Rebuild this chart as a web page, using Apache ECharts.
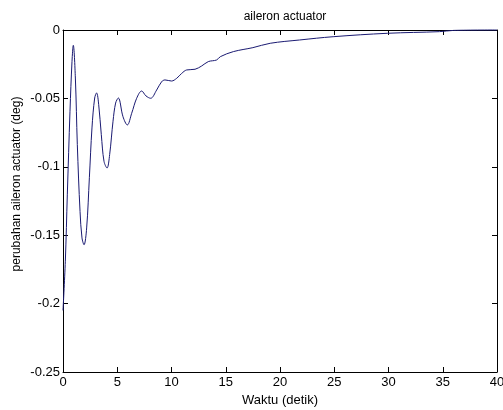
<!DOCTYPE html>
<html>
<head>
<meta charset="utf-8">
<script src="https://cdn.jsdelivr.net/npm/echarts@6/dist/echarts.min.js"></script>
<style>html,body{margin:0;padding:0;background:#fff}#c{width:503px;height:410px}</style>
</head>
<body>
<div id="c"></div>
<script>
var times = [0, 0.215, 0.40, 0.645, 0.83, 0.95, 1.14, 1.32, 1.57, 1.75, 1.94, 2.18, 2.43, 2.67, 2.92, 3.10, 3.29, 3.53, 3.78, 4.06, 4.30, 4.61, 4.85, 5.10, 5.53, 5.93, 6.33, 6.79, 7.25, 7.65, 8.08, 8.63, 9.09, 9.40, 10.0, 10.48, 10.94, 11.40, 12.17, 12.78, 13.39, 14.16, 14.5, 15.7, 17.5, 19.1, 21.8, 24.9, 29.9, 34.7, 36.0, 40.0];
var values = [-0.205, -0.169, -0.120, -0.0594, -0.0229, -0.0112, -0.0351, -0.0838, -0.1326, -0.152, -0.157, -0.1447, -0.108, -0.0716, -0.0497, -0.046, -0.0546, -0.0765, -0.096, -0.1009, -0.0911, -0.0667, -0.0534, -0.0497, -0.0634, -0.0694, -0.0609, -0.0499, -0.0446, -0.0482, -0.0499, -0.0439, -0.0378, -0.0365, -0.0373, -0.0353, -0.0317, -0.0292, -0.0287, -0.0263, -0.0231, -0.0219, -0.0195, -0.0158, -0.0129, -0.0097, -0.0073, -0.0049, -0.0024, -0.0012, -0.0003, 0];
var titleText = "aileron actuator";
var xName = "Waktu (detik)";
var yName = "perubahan aileron actuator (deg)";

var pts = times.map(function (t, i) { return [t, values[i]]; });
var font = "Arial, 'Liberation Sans', sans-serif";
var chart = echarts.init(document.getElementById('c'), null, {renderer: 'canvas'});
var axLine = {show: true, onZero: false, lineStyle: {color: '#000', width: 1}};
var tick = {show: true, inside: true, length: 5, lineStyle: {color: '#000'}};
chart.setOption({
  animation: false,
  backgroundColor: '#fff',
  title: {text: titleText, left: 280, top: 6, textAlign: 'center',
    textStyle: {fontFamily: font, fontSize: 12, fontWeight: 'normal', color: '#000'}},
  graphic: [{
    type: 'text', x: 17, y: 184, rotation: Math.PI / 2,
    style: {text: yName, fontFamily: font, fontSize: 12, fill: '#000',
      align: 'center', verticalAlign: 'middle'}
  }],
  grid: {left: 63, right: 6, top: 30, bottom: 38, containLabel: false, outerBoundsMode: 'none'},
  xAxis: [{
    type: 'value', min: 0, max: 40, interval: 5, position: 'bottom',
    name: xName, nameLocation: 'middle', nameGap: 22,
    nameTextStyle: {fontFamily: font, fontSize: 13, color: '#000'},
    axisLine: axLine, axisTick: tick, splitLine: {show: false},
    axisLabel: {fontFamily: font, fontSize: 13, color: '#000', margin: 4}
  }, {
    type: 'value', min: 0, max: 40, interval: 5, position: 'top',
    axisLine: axLine, axisTick: tick, splitLine: {show: false}, axisLabel: {show: false}
  }],
  yAxis: [{
    type: 'value', min: -0.25, max: 0, interval: 0.05, position: 'left',
    axisLine: axLine, axisTick: tick, splitLine: {show: false},
    axisLabel: {fontFamily: font, fontSize: 13, color: '#000', margin: 3,
      formatter: function (v) { return String(+v.toFixed(2)); }}
  }, {
    type: 'value', min: -0.25, max: 0, interval: 0.05, position: 'right',
    axisLine: axLine, axisTick: tick, splitLine: {show: false}, axisLabel: {show: false}
  }],
  series: [{
    type: 'line', data: pts, showSymbol: false, smooth: 0.35,
    lineStyle: {color: '#1a1a72', width: 1}, clip: false
  }]
});
</script>
</body>
</html>
